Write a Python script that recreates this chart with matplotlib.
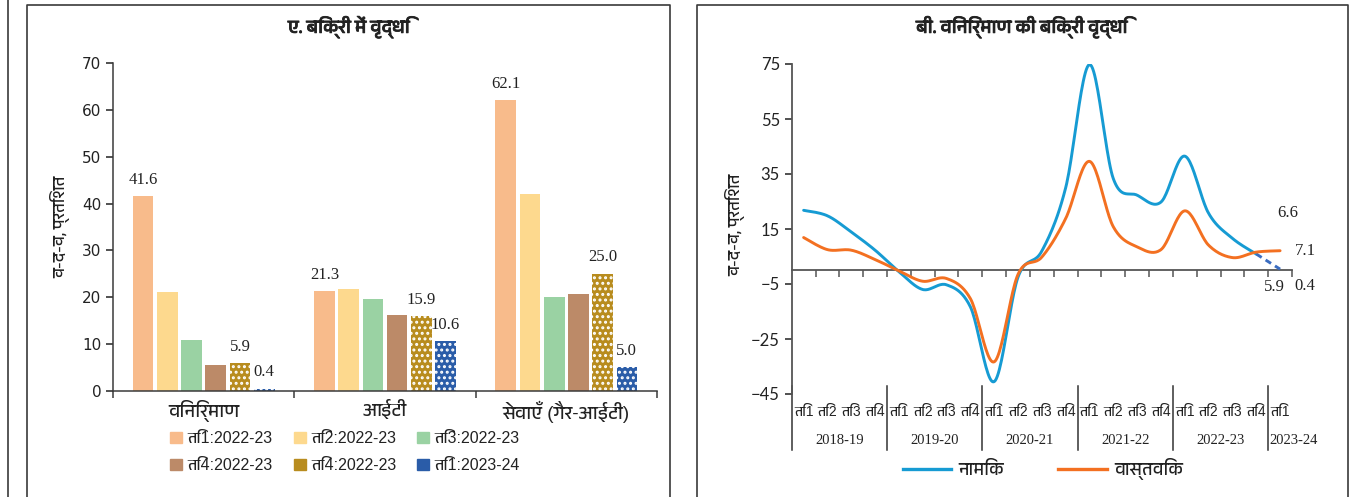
import numpy as np
import matplotlib
matplotlib.use("Agg")
import matplotlib.pyplot as plt
from matplotlib import font_manager, transforms
from matplotlib import patheffects as pe
from matplotlib.patches import Patch
from matplotlib.lines import Line2D
from matplotlib.ft2font import FT2Font

# ---------------- data ----------------
sectors = ["विनिर्माण", "आईटी", "सेवाएँ (गैर-आईटी)"]
bar_labels = ["ति1:2022-23", "ति2:2022-23", "ति3:2022-23",
              "ति4:2022-23", "ति4:2022-23", "ति1:2023-24"]
q1_2022_23 = [41.6, 21.3, 62.1]
q2_2022_23 = [21.1, 21.7, 42.0]
q3_2022_23 = [10.8, 19.7, 20.0]
q4_2022_23 = [5.5, 16.2, 20.6]
q4_2022_23_b = [5.9, 15.9, 25.0]
q1_2023_24 = [0.4, 10.6, 5.0]

fiscal_years = ["2018-19", "2019-20", "2020-21", "2021-22", "2022-23", "2023-24"]
quarters = ["ति1", "ति2", "ति3", "ति4"]
nominal = [21.8, 19.8, 13.9, 7.3, -0.5, -7.0, -5.3, -13.3, -40.5, -2.5, 7.0,
           30.0, 74.8, 33.3, 27.3, 24.8, 41.5, 20.7, 11.6, 5.9, 0.4]
real = [11.9, 7.5, 7.3, 3.9, -0.2, -4.0, -3.0, -10.3, -33.3, -1.5, 4.8,
        18.8, 39.6, 15.8, 8.5, 7.5, 21.6, 9.1, 4.6, 6.6, 7.1]
line_names = ["नामिक", "वास्तविक"]

left_title = "ए. बिक्री में वृद्धि"
right_title = "बी. विनिर्माण की बिक्री वृद्धि"
y_title = "व-द-व, प्रतिशत"


# ---------------- fonts ----------------
def find_devanagari():
    preferred, others = [], []
    for f in font_manager.fontManager.ttflist:
        if "CJK" in f.name:
            continue
        try:
            cmap = FT2Font(f.fname).get_charmap()
        except Exception:
            continue
        if 0x0915 in cmap and 0x093F in cmap:
            (preferred if "Devanagari" in f.name else others).append(f.name)
    for group in (preferred, others):
        if group:
            return sorted(set(group))[0]
    return None


deva = find_devanagari()
DEVA_SANS = ["Liberation Sans"] + ([deva] if deva else []) + ["DejaVu Sans"]
DEVA_ONLY = ([deva] if deva else []) + ["Liberation Sans", "DejaVu Sans"]

W, H = 1350, 497
fig = plt.figure(figsize=(W / 100, H / 100), dpi=100)
plt.rcParams["hatch.linewidth"] = 1.4


def fx(px):
    return px / W


def fy(py):
    return 1 - py / H


# panel frames
frame_col = "#3a3a3a"
for xs, ys in [([8, 8], [-5, 505]),
               ([27, 27, 670, 670], [505, 5, 5, 505]),
               ([697, 697, 1348, 1348], [505, 5, 5, 505])]:
    fig.add_artist(Line2D([fx(v) for v in xs], [fy(v) for v in ys],
                          color=frame_col, lw=1.2, transform=fig.transFigure))

text_col = "#222222"
bold_fx = [pe.withStroke(linewidth=0.6, foreground=text_col)]

# ---------------- left panel: bars ----------------
ax1 = fig.add_axes([fx(113), fy(390.7), fx(657) - fx(113), (390.7 - 63.3) / H])
series = [q1_2022_23, q2_2022_23, q3_2022_23, q4_2022_23, q4_2022_23_b, q1_2023_24]
colors = ["#F8BB8B", "#FDD98E", "#9AD2A3", "#BC8A68", "#B88C1E", "#2A5CA8"]
hatches = [None, None, None, None, "...", "..."]
labelled = [0, 4, 5]
x = np.arange(len(sectors))
step, width = 0.1335, 0.114
handles = []
for k, (vals, c, h) in enumerate(zip(series, colors, hatches)):
    pos = x + (k - 2.5) * step
    ax1.bar(pos, vals, width=width, color=c, hatch=h,
            edgecolor="white" if h else c, linewidth=0, zorder=2)
    handles.append(Patch(facecolor=c, edgecolor=c, label=bar_labels[k]))
    if k in labelled:
        for px_, v in zip(pos, vals):
            ax1.annotate(f"{v:.1f}", xy=(px_, v), xytext=(0, 6),
                         textcoords="offset points", ha="center", va="bottom",
                         fontsize=12, family="Liberation Serif", color=text_col)

ax1.set_xlim(-0.5, 2.5)
ax1.set_ylim(0, 70)
ax1.set_yticks(np.arange(0, 71, 10))
ax1.set_xticks([-0.5, 0.5, 1.5, 2.5])
ax1.set_xticklabels([])
ax1.set_xticks(x, minor=True)
ax1.set_xticklabels(sectors, minor=True, family=DEVA_SANS, fontsize=13.5, color=text_col)
ax1.tick_params(axis="x", which="minor", length=0, pad=7)
ax1.tick_params(axis="both", which="major", direction="out", length=5,
                width=1.1, color=frame_col)
ax1.tick_params(axis="y", labelsize=11, colors=text_col)
for lab in ax1.get_yticklabels():
    lab.set_family("DejaVu Sans")
for s in ["top", "right"]:
    ax1.spines[s].set_visible(False)
for s in ["left", "bottom"]:
    ax1.spines[s].set_color(frame_col)
    ax1.spines[s].set_linewidth(1.1)

order = [0, 3, 1, 4, 2, 5]
ax1.legend([handles[i] for i in order], [bar_labels[i] for i in order],
           ncol=3, loc="center", bbox_to_anchor=(fx(345), fy(452)),
           bbox_transform=fig.transFigure, frameon=False,
           prop={"family": DEVA_SANS, "size": 11.5},
           handlelength=0.75, handleheight=0.75, handletextpad=0.35,
           columnspacing=1.3, labelspacing=0.75, labelcolor=text_col)

fig.text(fx(349), fy(27), left_title, ha="center", va="center",
         fontsize=13.5, fontweight="bold", family=DEVA_ONLY, color=text_col,
         path_effects=bold_fx)
fig.text(fx(60), fy(227), y_title, ha="center", va="center", rotation=90,
         fontsize=12, family=DEVA_ONLY, color=text_col)


# ---------------- right panel: smooth lines ----------------
def smooth(xs, ys, n=24):
    xs = np.asarray(xs, float)
    ys = np.asarray(ys, float)
    px = np.r_[xs[0], xs, xs[-1]]
    py = np.r_[ys[0], ys, ys[-1]]
    t = np.linspace(0, 1, n)[:, None]
    out = []
    for i in range(1, len(xs)):
        p0 = np.array([px[i - 1], py[i - 1]])
        p1 = np.array([px[i], py[i]])
        p2 = np.array([px[i + 1], py[i + 1]])
        p3 = np.array([px[i + 2], py[i + 2]])
        c1 = p1 + (p2 - p0) / 6
        c2 = p2 - (p3 - p1) / 6
        seg = ((1 - t) ** 3) * p1 + 3 * ((1 - t) ** 2) * t * c1 \
            + 3 * (1 - t) * t ** 2 * c2 + t ** 3 * p2
        out.append(seg if i == 1 else seg[1:])
    pts = np.vstack(out)
    return pts[:, 0], pts[:, 1]


ax2 = fig.add_axes([fx(791.7), fy(394), fx(1292) - fx(791.7), (394 - 64) / H])
n = len(nominal)
idx = np.arange(n)
blue, orange, dash_blue = "#169BD3", "#F37021", "#3A6CC0"

sx, sy = smooth(idx[:n - 1], nominal[:n - 1])
ax2.plot(sx, sy, color=blue, lw=2.1, solid_capstyle="round", zorder=3)
ax2.plot(idx[n - 2:], nominal[n - 2:], color=dash_blue, lw=2.1,
         ls=(0, (2.2, 1.6)), zorder=3)
sx, sy = smooth(idx, real)
ax2.plot(sx, sy, color=orange, lw=2.1, solid_capstyle="round", zorder=3)

val_font = dict(fontsize=12, family="Liberation Serif", color=text_col,
                textcoords="offset points", ha="center", va="center")
ax2.annotate(f"{nominal[-2]:.1f}", xy=(idx[-2], nominal[-2]), xytext=(13, -24), **val_font)
ax2.annotate(f"{nominal[-1]:.1f}", xy=(idx[-1], nominal[-1]), xytext=(18, -12), **val_font)
ax2.annotate(f"{real[-2]:.1f}", xy=(idx[-2], real[-2]), xytext=(23, 28), **val_font)
ax2.annotate(f"{real[-1]:.1f}", xy=(idx[-1], real[-1]), xytext=(18, 0), **val_font)

ax2.set_xlim(-0.5, n - 0.5)
ax2.set_ylim(-45, 75)
ax2.set_yticks(np.arange(-45, 76, 20))
ax2.set_xticks(np.arange(0.5, n, 1.0))
ax2.set_xticklabels([])
ax2.spines["bottom"].set_position(("data", 0))
for s in ["top", "right"]:
    ax2.spines[s].set_visible(False)
for s in ["left", "bottom"]:
    ax2.spines[s].set_color("#555555")
    ax2.spines[s].set_linewidth(1.3)
ax2.tick_params(axis="both", direction="out", length=5, width=1.1, color="#555555")
ax2.tick_params(axis="y", labelsize=12, colors=text_col)
for lab in ax2.get_yticklabels():
    lab.set_family("Lato")

blend = transforms.blended_transform_factory(ax2.transData, ax2.transAxes)
for i in range(n):
    ax2.text(i, -0.055, quarters[i % 4], transform=blend, ha="center", va="center",
             fontsize=10, family=DEVA_SANS, color=text_col)
bounds = list(np.arange(-0.5, n, 4.0))
for b in bounds:
    ax2.add_line(Line2D([b, b], [0.024, -0.17], transform=blend, color="#333333",
                        lw=1.1, clip_on=False))
for k, fy_ in enumerate(fiscal_years):
    lo = bounds[k]
    hi = bounds[k + 1] if k + 1 < len(bounds) else n - 0.5
    if hi - lo >= 2:
        ax2.text((lo + hi) / 2, -0.142, fy_, transform=blend, ha="center",
                 va="center", fontsize=10.5, family="Liberation Serif", color=text_col)
    else:
        ax2.text(lo + 0.05, -0.142, fy_, transform=blend, ha="left",
                 va="center", fontsize=10.5, family="Liberation Serif", color=text_col)

ax2.legend([Line2D([], [], color=blue, lw=2.4), Line2D([], [], color=orange, lw=2.4)],
           line_names, ncol=2, loc="center", bbox_to_anchor=(fx(1043), fy(469)),
           bbox_transform=fig.transFigure, frameon=False,
           prop={"family": DEVA_ONLY, "size": 13}, handlelength=2.7,
           handletextpad=0.4, columnspacing=3.0, labelcolor=text_col)

fig.text(fx(1022), fy(27), right_title, ha="center", va="center",
         fontsize=13.5, fontweight="bold", family=DEVA_ONLY, color=text_col,
         path_effects=bold_fx)
fig.text(fx(735), fy(225), y_title, ha="center", va="center", rotation=90,
         fontsize=12, family=DEVA_ONLY, color=text_col)

fig.savefig("out.png", dpi=100, facecolor="white")
